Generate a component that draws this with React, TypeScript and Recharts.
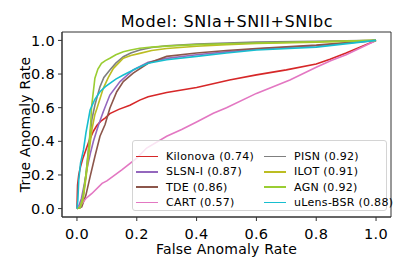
import React from 'react';
import { LineChart, Line, XAxis, YAxis, ReferenceArea, Legend } from 'recharts';

// ROC points (false anomaly rate -> true anomaly rate)
const kilonovaFpr = [0, 0.002, 0.006, 0.012, 0.02, 0.028, 0.04, 0.055, 0.067, 0.08, 0.095, 0.11, 0.14, 0.177, 0.21, 0.238, 0.3, 0.4, 0.51, 0.6, 0.7, 0.8, 0.846, 0.9, 0.95, 1.0];
const kilonovaTpr = [0, 0.14, 0.2, 0.25, 0.3, 0.34, 0.4, 0.46, 0.495, 0.52, 0.54, 0.565, 0.59, 0.615, 0.645, 0.665, 0.69, 0.72, 0.765, 0.795, 0.825, 0.86, 0.888, 0.925, 0.962, 1.0];

const slsnFpr = [0, 0.005, 0.015, 0.025, 0.035, 0.045, 0.055, 0.072, 0.088, 0.11, 0.144, 0.188, 0.238, 0.3, 0.4, 0.5, 0.6, 0.8, 1.0];
const slsnTpr = [0, 0.01, 0.06, 0.15, 0.25, 0.33, 0.4, 0.497, 0.576, 0.675, 0.755, 0.824, 0.87, 0.893, 0.915, 0.932, 0.948, 0.968, 1.0];

const tdeFpr = [0, 0.016, 0.03, 0.044, 0.06, 0.077, 0.094, 0.11, 0.133, 0.155, 0.188, 0.238, 0.3, 0.4, 0.5, 0.6, 0.8, 1.0];
const tdeTpr = [0, 0.01, 0.08, 0.19, 0.31, 0.43, 0.5, 0.597, 0.695, 0.755, 0.805, 0.864, 0.905, 0.925, 0.94, 0.952, 0.972, 1.0];

const cartFpr = [0, 0.008, 0.017, 0.03, 0.05, 0.084, 0.1, 0.15, 0.2, 0.233, 0.3, 0.35, 0.4, 0.456, 0.5, 0.6, 0.712, 0.8, 0.85, 0.9, 1.0];
const cartTpr = [0, 0.01, 0.03, 0.06, 0.09, 0.15, 0.165, 0.23, 0.3, 0.36, 0.43, 0.47, 0.515, 0.567, 0.6, 0.685, 0.765, 0.84, 0.88, 0.915, 1.0];

const pisnFpr = [0, 0.01, 0.02, 0.03, 0.04, 0.05, 0.06, 0.077, 0.09, 0.11, 0.13, 0.155, 0.18, 0.21, 0.25, 0.3, 0.4, 0.5, 0.6, 0.8, 1.0];
const pisnTpr = [0, 0.005, 0.06, 0.2, 0.38, 0.53, 0.616, 0.725, 0.78, 0.824, 0.865, 0.903, 0.925, 0.943, 0.958, 0.968, 0.978, 0.985, 0.99, 0.995, 1.0];

const ilotFpr = [0, 0.01, 0.02, 0.03, 0.04, 0.05, 0.06, 0.067, 0.088, 0.105, 0.122, 0.155, 0.18, 0.21, 0.25, 0.3, 0.4, 0.5, 0.6, 0.8, 1.0];
const ilotTpr = [0, 0.005, 0.05, 0.18, 0.33, 0.47, 0.56, 0.597, 0.715, 0.78, 0.834, 0.894, 0.91, 0.923, 0.94, 0.952, 0.965, 0.975, 0.982, 0.99, 1.0];

const agnFpr = [0, 0.01, 0.02, 0.03, 0.039, 0.046, 0.049, 0.06, 0.07, 0.082, 0.095, 0.11, 0.13, 0.155, 0.18, 0.21, 0.25, 0.3, 0.4, 0.5, 0.6, 0.8, 1.0];
const agnTpr = [0, 0.005, 0.07, 0.2, 0.35, 0.51, 0.606, 0.775, 0.83, 0.864, 0.88, 0.894, 0.915, 0.933, 0.943, 0.953, 0.96, 0.966, 0.975, 0.98, 0.985, 0.992, 1.0];

const ulensFpr = [0, 0.003, 0.006, 0.012, 0.022, 0.03, 0.044, 0.06, 0.077, 0.095, 0.11, 0.13, 0.155, 0.2, 0.238, 0.3, 0.4, 0.5, 0.6, 0.8, 1.0];
const ulensTpr = [0, 0.05, 0.17, 0.27, 0.35, 0.45, 0.586, 0.65, 0.695, 0.725, 0.745, 0.77, 0.794, 0.834, 0.864, 0.885, 0.905, 0.925, 0.943, 0.96, 1.0];

const axisTicks = [0, 0.2, 0.4, 0.6, 0.8, 1.0];

const zip = (xs: number[], ys: number[]) => xs.map((x, i) => ({ x, y: ys[i] }));

const SERIES = [
  { name: 'Kilonova (0.74)', color: '#d62728', data: zip(kilonovaFpr, kilonovaTpr) },
  { name: 'SLSN-I (0.87)', color: '#9467bd', data: zip(slsnFpr, slsnTpr) },
  { name: 'TDE (0.86)', color: '#8c564b', data: zip(tdeFpr, tdeTpr) },
  { name: 'CART (0.57)', color: '#e377c2', data: zip(cartFpr, cartTpr) },
  { name: 'PISN (0.92)', color: '#7f7f7f', data: zip(pisnFpr, pisnTpr) },
  { name: 'ILOT (0.91)', color: '#bcbd22', data: zip(ilotFpr, ilotTpr) },
  { name: 'AGN (0.92)', color: '#9acd32', data: zip(agnFpr, agnTpr) },
  { name: 'uLens-BSR (0.88)', color: '#17becf', data: zip(ulensFpr, ulensTpr) },
];

const FONT = '"DejaVu Sans", sans-serif';

const renderLegend = () => (
  <div
    style={{
      boxSizing: 'border-box',
      width: 255,
      height: 71,
      padding: '8px 0 0 3px',
      border: '1px solid #d4d4d4',
      borderRadius: 3,
      background: 'rgba(255,255,255,0.8)',
      display: 'grid',
      gridTemplateColumns: '128px 124px',
      gridTemplateRows: 'repeat(4, 15.3px)',
      gridAutoFlow: 'column',
      fontFamily: FONT,
      fontSize: 11,
      letterSpacing: 0.3,
      color: '#000',
    }}
  >
    {SERIES.map((s) => (
      <div key={s.name} style={{ display: 'flex', alignItems: 'center', whiteSpace: 'nowrap' }}>
        <span style={{ width: 22, height: 1.6, background: s.color, marginRight: 8, flexShrink: 0 }} />
        <span>{s.name}</span>
      </div>
    ))}
  </div>
);

const tickStyle = { fill: '#000', fontSize: 14.5, fontFamily: FONT, letterSpacing: 0.3 };
const labelStyle = { fill: '#000', fontSize: 14, fontFamily: FONT, letterSpacing: 0.2 };

export default function App() {
  return (
    <div style={{ position: 'absolute', left: 0, top: 0, width: 407, height: 271, background: '#fff' }}>
      <svg width={407} height={30} style={{ position: 'absolute', left: 0, top: 0 }}>
        <text x={227} y={26.5} textAnchor="middle" fontFamily={FONT} fontSize={16} letterSpacing={0.6} fill="#000">
          Model: SNIa+SNII+SNIbc
        </text>
      </svg>
      <LineChart width={407} height={271} margin={{ top: 32, right: 16, bottom: 0, left: 0 }}>
        <XAxis
          type="number"
          dataKey="x"
          domain={[-0.05, 1.05]}
          ticks={axisTicks}
          tickFormatter={(v: number) => v.toFixed(1)}
          allowDataOverflow
          height={54}
          tickSize={4}
          tickMargin={8}
          tick={tickStyle}
          axisLine={{ stroke: '#333' }}
          tickLine={{ stroke: '#333' }}
          label={{ value: 'False Anomaly Rate', position: 'insideBottom', offset: 17, ...labelStyle }}
        />
        <YAxis
          type="number"
          dataKey="y"
          domain={[-0.05, 1.05]}
          ticks={axisTicks}
          tickFormatter={(v: number) => v.toFixed(1)}
          allowDataOverflow
          width={62}
          tickSize={4}
          tickMargin={3}
          tick={tickStyle}
          axisLine={{ stroke: '#333' }}
          tickLine={{ stroke: '#333' }}
          label={{ value: 'True Anomaly Rate', angle: -90, position: 'center', dx: -6, ...labelStyle }}
        />
        <ReferenceArea x1={-0.05} x2={1.05} y1={-0.05} y2={1.05} fill="none" stroke="#333" strokeWidth={1} />
        {SERIES.map((s) => (
          <Line
            key={s.name}
            data={s.data}
            dataKey="y"
            name={s.name}
            type="linear"
            stroke={s.color}
            strokeWidth={1.6}
            dot={false}
            activeDot={false}
            isAnimationActive={false}
          />
        ))}
        <Legend
          layout="horizontal"
          verticalAlign="middle"
          align="center"
          content={renderLegend}
          wrapperStyle={{ left: 132, top: 140, width: 255, height: 71 }}
        />
      </LineChart>
    </div>
  );
}
